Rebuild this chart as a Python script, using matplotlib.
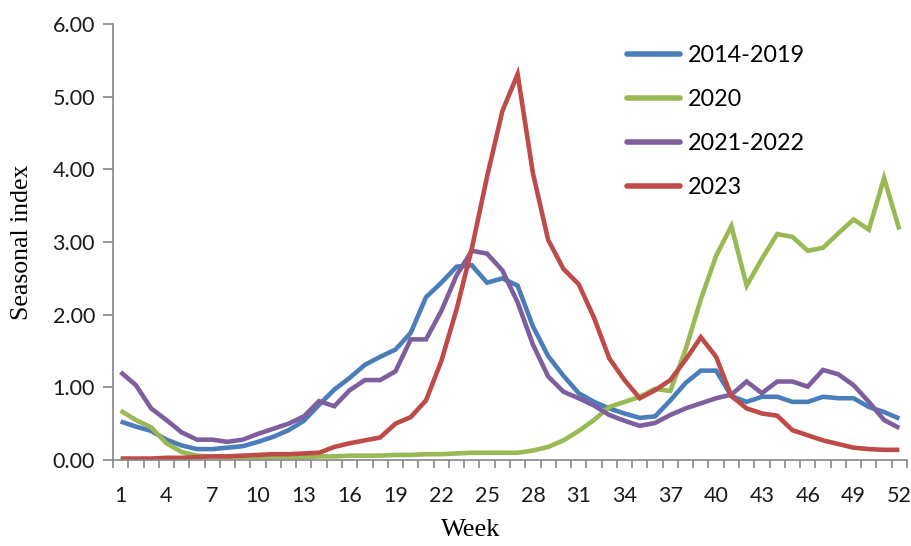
import matplotlib
matplotlib.use("Agg")
import matplotlib.pyplot as plt
import numpy as np

weeks = list(range(1, 53))

s_2014_2019 = [0.53, 0.46, 0.40, 0.28, 0.20, 0.15, 0.15, 0.17, 0.19, 0.25,
               0.32, 0.41, 0.54, 0.76, 0.97, 1.13, 1.31, 1.42, 1.52, 1.75,
               2.24, 2.44, 2.66, 2.68, 2.44, 2.50, 2.40, 1.84, 1.43, 1.16,
               0.92, 0.80, 0.71, 0.64, 0.58, 0.60, 0.82, 1.06, 1.23, 1.23,
               0.88, 0.80, 0.87, 0.87, 0.80, 0.80, 0.87, 0.85, 0.85, 0.73,
               0.66, 0.57]
s_2020 = [0.68, 0.55, 0.45, 0.23, 0.11, 0.06, 0.05, 0.04, 0.04, 0.04,
          0.04, 0.04, 0.04, 0.05, 0.05, 0.06, 0.06, 0.06, 0.07, 0.07,
          0.08, 0.08, 0.09, 0.10, 0.10, 0.10, 0.10, 0.13, 0.18, 0.27,
          0.40, 0.55, 0.73, 0.80, 0.87, 0.98, 0.95, 1.52, 2.21, 2.81,
          3.22, 2.40, 2.77, 3.11, 3.07, 2.88, 2.92, 3.12, 3.31, 3.17,
          3.88, 3.17]
s_2021_2022 = [1.21, 1.03, 0.71, 0.55, 0.38, 0.28, 0.28, 0.25, 0.28, 0.36,
               0.43, 0.50, 0.60, 0.81, 0.74, 0.96, 1.10, 1.10, 1.22, 1.66,
               1.66, 2.05, 2.54, 2.88, 2.84, 2.61, 2.17, 1.59, 1.15, 0.94,
               0.85, 0.75, 0.62, 0.54, 0.47, 0.51, 0.62, 0.71, 0.78, 0.85,
               0.90, 1.08, 0.92, 1.08, 1.08, 1.01, 1.24, 1.18, 1.03, 0.80,
               0.55, 0.44]
s_2023 = [0.02, 0.02, 0.02, 0.03, 0.03, 0.04, 0.05, 0.05, 0.06, 0.07,
          0.08, 0.08, 0.09, 0.10, 0.18, 0.23, 0.27, 0.31, 0.50, 0.59,
          0.82, 1.36, 2.07, 2.91, 3.90, 4.80, 5.31, 3.95, 3.03, 2.63,
          2.42, 1.96, 1.40, 1.10, 0.85, 0.96, 1.10, 1.38, 1.69, 1.42,
          0.88, 0.71, 0.64, 0.61, 0.41, 0.34, 0.27, 0.22, 0.17, 0.15,
          0.14, 0.14]

labels = ["2014-2019", "2020", "2021-2022", "2023"]
colors = ["#4A7EBB", "#98B954", "#7D5FA0", "#BE4B48"]
x_ticks = list(range(1, 53, 3))
y_ticks = [0, 1, 2, 3, 4, 5, 6]

fig = plt.figure(figsize=(9.11, 5.46), dpi=100)
ax = fig.add_axes([0.124, 0.1575, 0.8716, 0.7985])

for series, lab, col in zip([s_2014_2019, s_2020, s_2021_2022, s_2023], labels, colors):
    ax.plot(weeks, series, color=col, lw=3.3, label=lab, solid_joinstyle="miter",
            solid_capstyle="butt")

ax.set_xlim(0.5, 52.5)
ax.set_ylim(0, 6)
ax.set_xticks(x_ticks)
ax.set_xticklabels([str(t) for t in x_ticks], fontfamily="Lato", fontsize=15.5, color="#1a1a1a")
ax.set_xticks(np.arange(0.5, 53, 1), minor=True)
ax.tick_params(axis="x", which="major", length=0, pad=19)
ax.tick_params(axis="x", which="minor", length=6, width=1.2, color="#868686", direction="out")
ax.set_yticks(y_ticks)
ax.set_yticklabels([f"{t:.2f}" for t in y_ticks], fontfamily="Lato", fontsize=15.5, color="#1a1a1a")
ax.tick_params(axis="y", length=7, width=1.2, color="#868686", direction="out", pad=6)

for sp in ["top", "right"]:
    ax.spines[sp].set_visible(False)
for sp in ["left", "bottom"]:
    ax.spines[sp].set_color("#868686")
    ax.spines[sp].set_linewidth(1.2)

ax.set_ylabel("Seasonal index", fontfamily="Liberation Serif", fontsize=18.5)
ax.yaxis.set_label_coords(-0.101, 0.5)
ax.set_xlabel("Week", fontfamily="Liberation Serif", fontsize=19)
ax.xaxis.set_label_coords(0.451, -0.135)

leg = ax.legend(loc="upper left", bbox_to_anchor=(0.636, 0.973), frameon=False,
                prop={"family": "Lato", "size": 16.8}, handlelength=2.25,
                labelspacing=0.98, handletextpad=0.35, borderaxespad=0)
for h in leg.get_lines():
    h.set_linewidth(4)
    h.set_solid_capstyle("round")

fig.savefig("out.png", dpi=100)
